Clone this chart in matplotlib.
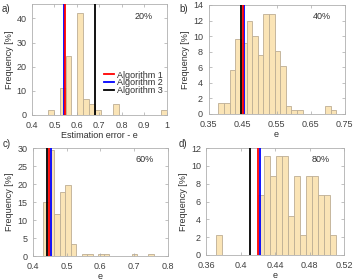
import matplotlib
matplotlib.use('Agg')
import matplotlib.pyplot as plt
import numpy as np

plt.rcParams['font.family'] = ['Liberation Sans', 'DejaVu Sans']
plt.rcParams['font.size'] = 6.5

# Histogramme: Startkante, Klassenbreite, Haeufigkeit [%]
a_start, a_width = 0.47, 0.0265
a_freq = [2.2, 0, 11.1, 24.4, 0, 42.2, 6.7, 4.4, 2.2, 0, 0, 4.4, 0, 0, 0, 0, 0, 0, 0, 2.2]
b_start, b_width = 0.379, 0.0165
b_freq = [1.4, 1.4, 5.7, 9.6, 9.1, 11.9, 10.0, 7.6, 12.9, 12.9, 8.1, 6.2, 1.0, 0.5, 0.5,
          0, 0, 0, 0, 1.0, 0.5]
c_start, c_width = 0.4313, 0.0163
c_freq = [15.1, 29.5, 11.8, 17.7, 19.6, 3.2, 0, 0.53, 0.53, 0, 0.53, 0.53, 0, 0, 0, 0,
          0.53, 0, 0, 0.53]
d_start, d_width = 0.371, 0.00698
d_freq = [2.2, 0, 0, 0, 0, 0, 0, 6.7, 11.1, 8.9, 11.1, 11.1, 4.4, 8.9, 2.2, 8.9, 8.9,
          6.7, 6.7, 2.2]

# Mittlerer Fehler der Algorithmen (1, 2, 3)
alg_err_a = [0.549, 0.544, 0.681]
alg_err_b = [0.451, 0.455, 0.446]
alg_err_c = [0.448, 0.453, 0.442]
alg_err_d = [0.4196, 0.4223, 0.4107]

alg_names = ['Algorithm 1', 'Algorithm 2', 'Algorithm 3']
alg_colors = ['red', 'blue', 'black']

fig = plt.figure(figsize=(3.56, 2.80), dpi=100)

panels = [
    # pos, start, width, freq, lines, xlim, xticks, xticklabels, ylim, yticks, pct, xlabel
    ([0.0899, 0.5893, 0.3778, 0.3964], a_start, a_width, a_freq, alg_err_a,
     (0.4, 1.0), [0.4, 0.5, 0.6, 0.7, 0.8, 0.9, 1.0],
     ['0.4', '0.5', '0.6', '0.7', '0.8', '0.9', '1'],
     (0, 46), [0, 10, 20, 30, 40], '20%', 'Estimation error - e'),
    ([0.5860, 0.5929, 0.3820, 0.3893], b_start, b_width, b_freq, alg_err_b,
     (0.35, 0.75), [0.35, 0.45, 0.55, 0.65, 0.75],
     ['0.35', '0.45', '0.55', '0.65', '0.75'],
     (0, 14), [0, 2, 4, 6, 8, 10, 12, 14], '40%', 'e'),
    ([0.0919, 0.0857, 0.3800, 0.3857], c_start, c_width, c_freq, alg_err_c,
     (0.4, 0.8), [0.4, 0.5, 0.6, 0.7, 0.8],
     ['0.4', '0.5', '0.6', '0.7', '0.8'],
     (0, 30), [0, 5, 10, 15, 20, 25, 30], '60%', 'e'),
    ([0.5798, 0.0893, 0.3865, 0.3820], d_start, d_width, d_freq, alg_err_d,
     (0.36, 0.52), [0.36, 0.40, 0.44, 0.48, 0.52],
     ['0.36', '0.4', '0.44', '0.48', '0.52'],
     (0, 12), [0, 2, 4, 6, 8, 10, 12], '80%', 'e'),
]

axes = []
for pos, start, width, freq, errs, xlim, xt, xtl, ylim, yt, pct, xlab in panels:
    ax = fig.add_axes(pos)
    left = start + width * np.arange(len(freq))
    ax.bar(left, freq, width=width, align='edge', color='#FAE4B6',
           edgecolor='#BDAE94', linewidth=0.6, zorder=1)
    for k in [2, 1, 0]:
        ax.axvline(errs[k], color=alg_colors[k], linewidth=1.3, zorder=3,
                   label=alg_names[k])
    ax.set_xlim(xlim)
    ax.set_ylim(ylim)
    ax.set_xticks(xt)
    ax.set_xticklabels(xtl)
    ax.set_yticks(yt)
    ax.tick_params(direction='in', length=2, width=0.5, colors='#A8A8A8',
                   labelcolor='#404040', labelsize=6.5, pad=4,
                   top=True, right=True)
    for s in ax.spines.values():
        s.set_color('#B0B0B0')
        s.set_linewidth(0.6)
    ax.set_xlabel(xlab, fontsize=6.5, color='#303030', labelpad=1)
    ax.set_ylabel('Frequency [%]', fontsize=6.5, color='#303030', labelpad=2)
    ax.text(0.83, 0.89, pct, transform=ax.transAxes, ha='center', va='center',
            fontsize=6.5, color='#303030')
    axes.append(ax)

# Legende nur im ersten Panel
h, l = axes[0].get_legend_handles_labels()
order = [l.index(n) for n in alg_names]
axes[0].legend([h[i] for i in order], [l[i] for i in order], loc='lower right',
               bbox_to_anchor=(1.02, 0.12), frameon=False, fontsize=6.5,
               handlelength=1.2, handletextpad=0.3, labelspacing=-0.12,
               borderpad=0.2, labelcolor='#303030')

for tag, x, y in [('a)', 0.005, 0.985), ('b)', 0.503, 0.985),
                  ('c)', 0.008, 0.505), ('d)', 0.503, 0.505)]:
    fig.text(x, y, tag, fontsize=7, ha='left', va='top', color='#303030')

plt.savefig('out.png', dpi=100)
